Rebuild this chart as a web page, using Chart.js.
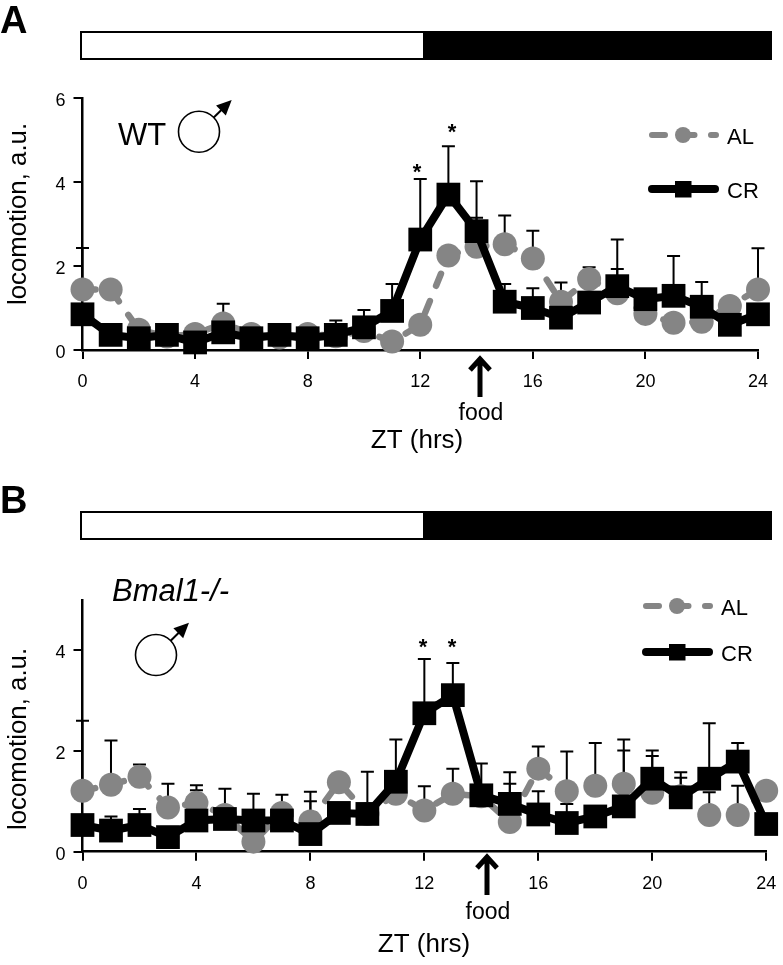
<!DOCTYPE html>
<html>
<head>
<meta charset="utf-8">
<script src="https://cdn.jsdelivr.net/npm/chart.js@4.4.0/dist/chart.umd.min.js"></script>
<style>
  html, body { margin: 0; padding: 0; background: #fff; }
  #wrap { position: relative; width: 783px; height: 965px; overflow: hidden; }
  canvas { position: absolute; left: 0; }
  #chartA { top: 0; }
  #chartB { top: 480px; }
</style>
</head>
<body>
<div id="wrap">
  <canvas id="chartA" width="783" height="480"></canvas>
  <canvas id="chartB" width="783" height="485"></canvas>
</div>
<script>
// Data
const hours = [0,1,2,3,4,5,6,7,8,9,10,11,12,13,14,15,16,17,18,19,20,21,22,23,24];

const alA = [1.44,1.44,0.48,0.32,0.38,0.63,0.38,0.30,0.38,0.33,0.45,0.20,0.60,2.25,2.46,2.52,2.18,1.15,1.69,1.35,0.86,0.65,0.67,1.05,1.44];
const crA = [0.85,0.36,0.28,0.36,0.18,0.42,0.28,0.36,0.28,0.36,0.54,0.93,2.63,3.70,2.83,1.15,1.00,0.77,1.13,1.52,1.21,1.29,1.03,0.60,0.85];
const alTopA = [2.43,null,null,null,null,1.10,null,null,null,null,null,null,null,null,3.15,3.20,2.84,1.61,1.97,1.93,null,null,null,null,2.42];
const crTopA = [null,null,null,null,null,null,null,null,null,0.70,0.95,1.57,4.07,4.85,4.02,1.57,1.47,null,null,2.63,null,2.24,1.62,null,null];

const alB = [1.21,1.33,1.49,0.88,0.97,0.73,0.20,0.77,0.60,1.38,0.75,1.15,0.82,1.15,1.10,0.59,1.65,1.20,1.31,1.35,1.17,1.10,0.73,0.73,1.21];
const crB = [0.53,0.42,0.53,0.29,0.62,0.65,0.62,0.62,0.35,0.77,0.75,1.39,2.75,3.11,1.12,0.95,0.74,0.57,0.70,0.90,1.45,1.08,1.45,1.79,0.55];
const alTopB = [2.60,2.21,1.73,1.35,1.32,1.25,null,1.13,1.19,null,null,null,1.30,1.65,null,1.58,2.09,1.99,2.16,2.23,1.90,1.47,1.18,1.31,null];
const crTopB = [null,0.70,0.85,null,1.22,null,1.15,null,1.00,null,1.59,2.23,3.83,3.75,1.75,1.35,1.20,0.95,null,2.01,2.01,1.58,2.55,2.16,null];

const xTicks = [0,4,8,12,16,20,24];
const GREY = '#858585';
const FONT = '"Liberation Sans", Arial, sans-serif';
const AL_DASH = [13, 16.5];

// error bars go behind the markers
const errorBars = {
  id: 'errorBars',
  beforeDatasetsDraw(chart, args, opts) {
    const { ctx, scales: { x, y } } = chart;
    ctx.save();
    ctx.strokeStyle = '#000';
    ctx.lineWidth = 2;
    opts.sets.forEach(set => {
      set.tops.forEach((top, i) => {
        if (top === null) return;
        const px = x.getPixelForValue(hours[i]);
        const yTop = y.getPixelForValue(top);
        ctx.beginPath();
        ctx.moveTo(px, y.getPixelForValue(set.values[i]));
        ctx.lineTo(px, yTop);
        ctx.moveTo(px - 6.5, yTop);
        ctx.lineTo(px + 6.5, yTop);
        ctx.stroke();
      });
    });
    ctx.restore();
  }
};

function drawMale(ctx, cx, cy, tipX, tipY) {
  const r = 20.5;
  const a = Math.atan2(tipY - cy, tipX - cx);
  ctx.strokeStyle = '#000';
  ctx.fillStyle = '#000';
  ctx.lineWidth = 1.6;
  ctx.beginPath();
  ctx.arc(cx, cy, r, 0, Math.PI * 2);
  ctx.stroke();
  ctx.lineWidth = 2;
  ctx.beginPath();
  ctx.moveTo(cx + r * Math.cos(a), cy + r * Math.sin(a));
  ctx.lineTo(tipX - 8 * Math.cos(a), tipY - 8 * Math.sin(a));
  ctx.stroke();
  ctx.save();
  ctx.translate(tipX, tipY);
  ctx.rotate(a);
  ctx.beginPath();
  ctx.moveTo(0, 0);
  ctx.lineTo(-15, 7);
  ctx.lineTo(-15, -7);
  ctx.closePath();
  ctx.fill();
  ctx.restore();
}

function drawFoodArrow(ctx, x, y0, y1) {
  ctx.strokeStyle = '#000';
  ctx.lineWidth = 5;
  ctx.beginPath();
  ctx.moveTo(x, y1);
  ctx.lineTo(x, y0 + 3);
  ctx.moveTo(x - 10, y0 + 13);
  ctx.lineTo(x, y0 + 2);
  ctx.lineTo(x + 10, y0 + 13);
  ctx.stroke();
}

function drawLegend(ctx, lx, y1, y2) {
  // AL, dashed with a dot
  ctx.save();
  ctx.strokeStyle = GREY;
  ctx.lineWidth = 6;
  ctx.lineCap = 'round';
  ctx.setLineDash(AL_DASH);
  ctx.beginPath();
  ctx.moveTo(lx + 6, y1);
  ctx.lineTo(lx + 70, y1);
  ctx.stroke();
  ctx.setLineDash([]);
  ctx.fillStyle = GREY;
  ctx.beginPath();
  ctx.arc(lx + 37, y1, 8, 0, Math.PI * 2);
  ctx.fill();
  // CR, solid with a square
  ctx.strokeStyle = '#000';
  ctx.lineWidth = 8;
  ctx.beginPath();
  ctx.moveTo(lx + 6, y2);
  ctx.lineTo(lx + 69, y2);
  ctx.stroke();
  ctx.fillStyle = '#000';
  ctx.fillRect(lx + 29, y2 - 8, 16.5, 16.5);
  ctx.restore();
}

// everything around the plot: day/night bar, panel letter, symbols, labels
const decorations = {
  id: 'decorations',
  afterDraw(chart, args, opts) {
    const { ctx } = chart;
    ctx.save();
    ctx.fillStyle = '#000';
    ctx.fillRect(423, opts.barTop, 348, 29);
    ctx.strokeStyle = '#000';
    ctx.lineWidth = 2;
    ctx.strokeRect(81, opts.barTop + 1, 690, 27);
    ctx.fillStyle = '#000';
    ctx.textBaseline = 'middle';
    ctx.textAlign = 'left';
    opts.texts.forEach(t => {
      ctx.font = t.font + ' ' + FONT;
      ctx.textAlign = t.align || 'left';
      ctx.fillText(t.text, t.x, t.y);
    });
    ctx.save();
    ctx.translate(opts.yTitle.x, opts.yTitle.y);
    ctx.rotate(-Math.PI / 2);
    ctx.textAlign = 'center';
    ctx.font = '25.8px ' + FONT;
    ctx.fillText('locomotion, a.u.', 0, 0);
    ctx.restore();
    drawMale(ctx, ...opts.male);
    drawFoodArrow(ctx, ...opts.arrow);
    drawLegend(ctx, ...opts.legend);
    ctx.restore();
  }
};

function makeChart(id, cfg) {
  return new Chart(document.getElementById(id), {
    type: 'line',
    plugins: [errorBars, decorations],
    data: {
      datasets: [
        {
          label: 'CR',
          data: hours.map((h, i) => ({ x: h, y: cfg.cr[i] })),
          borderColor: '#000',
          backgroundColor: '#000',
          borderWidth: 8,
          pointStyle: 'rect',
          pointRadius: 16.8,
          pointBorderWidth: 0,
          tension: 0,
          clip: false,
          order: 1
        },
        {
          label: 'AL',
          data: hours.map((h, i) => ({ x: h, y: cfg.al[i] })),
          borderColor: GREY,
          backgroundColor: GREY,
          borderWidth: 6.5,
          borderDash: AL_DASH,
          borderCapStyle: 'round',
          pointStyle: 'circle',
          pointRadius: 12,
          pointBorderWidth: 0,
          tension: 0,
          clip: false,
          order: 2
        }
      ]
    },
    options: {
      responsive: false,
      animation: false,
      layout: { padding: cfg.padding },
      plugins: {
        legend: { display: false },
        tooltip: { enabled: false },
        errorBars: { sets: [
          { values: cfg.al, tops: cfg.alTop },
          { values: cfg.cr, tops: cfg.crTop }
        ] },
        decorations: cfg.decorations
      },
      scales: {
        x: {
          type: 'linear',
          min: 0,
          max: 24,
          afterBuildTicks: s => { s.ticks = xTicks.map(v => ({ value: v })); },
          afterFit: s => { s.height = cfg.xAxisHeight; s.paddingLeft = 0; s.paddingRight = 0; },
          border: { color: '#000', width: 2.5 },
          grid: { drawOnChartArea: false, color: '#000', lineWidth: 2, tickLength: 9 },
          ticks: { color: '#000', font: { family: FONT, size: 18 }, maxRotation: 0, padding: cfg.xTickPad }
        },
        y: {
          min: 0,
          max: cfg.yMax,
          afterBuildTicks: s => { s.ticks = cfg.yTicks.map(v => ({ value: v })); },
          afterFit: s => { s.width = 82.5; s.paddingTop = 0; s.paddingBottom = 0; },
          border: { color: '#000', width: 2.5 },
          grid: { drawOnChartArea: false, color: '#000', lineWidth: 2, tickLength: 9 },
          ticks: { color: '#000', font: { family: FONT, size: 18 }, padding: 8, labelOffset: 3 }
        }
      }
    }
  });
}

makeChart('chartA', {
  al: alA, cr: crA, alTop: alTopA, crTop: crTopA,
  yMax: 6, yTicks: [0, 2, 4, 6], xTickPad: 12,
  padding: { top: 98, right: 25, bottom: 24, left: 0 },
  xAxisHeight: 106,
  decorations: {
    barTop: 31,
    yTitle: { x: 19, y: 214 },
    male: [199, 131.7, 231.7, 100],
    arrow: [480, 357, 397],
    legend: [646, 135, 189],
    texts: [
      { text: 'A', x: 0, y: 23, font: 'bold 38px' },
      { text: 'WT', x: 118, y: 136, font: '31px' },
      { text: '*', x: 417, y: 173, font: 'bold 22px', align: 'center' },
      { text: '*', x: 452, y: 133, font: 'bold 22px', align: 'center' },
      { text: 'food', x: 481, y: 414, font: '23px', align: 'center' },
      { text: 'ZT (hrs)', x: 417, y: 441, font: '26px', align: 'center' },
      { text: 'AL', x: 727, y: 138, font: '22px' },
      { text: 'CR', x: 727, y: 192, font: '22px' }
    ]
  }
});

makeChart('chartB', {
  al: alB, cr: crB, alTop: alTopB, crTop: crTopB,
  yMax: 5, yTicks: [0, 2, 4], xTickPad: 13,
  padding: { top: 120, right: 15, bottom: 5.3, left: 0 },
  xAxisHeight: 108,
  decorations: {
    barTop: 31,
    yTitle: { x: 19, y: 259 },
    male: [156, 175, 189, 142.7],
    arrow: [487, 375, 415],
    legend: [640, 126, 172],
    texts: [
      { text: 'B', x: 0, y: 23, font: 'bold 38px' },
      { text: 'Bmal1-/-', x: 112, y: 112, font: 'italic 31px' },
      { text: '*', x: 423, y: 168, font: 'bold 22px', align: 'center' },
      { text: '*', x: 452, y: 168, font: 'bold 22px', align: 'center' },
      { text: 'food', x: 488, y: 433, font: '23px', align: 'center' },
      { text: 'ZT (hrs)', x: 424, y: 465, font: '26px', align: 'center' },
      { text: 'AL', x: 721, y: 129, font: '22px' },
      { text: 'CR', x: 721, y: 175, font: '22px' }
    ]
  }
});
</script>
</body>
</html>
